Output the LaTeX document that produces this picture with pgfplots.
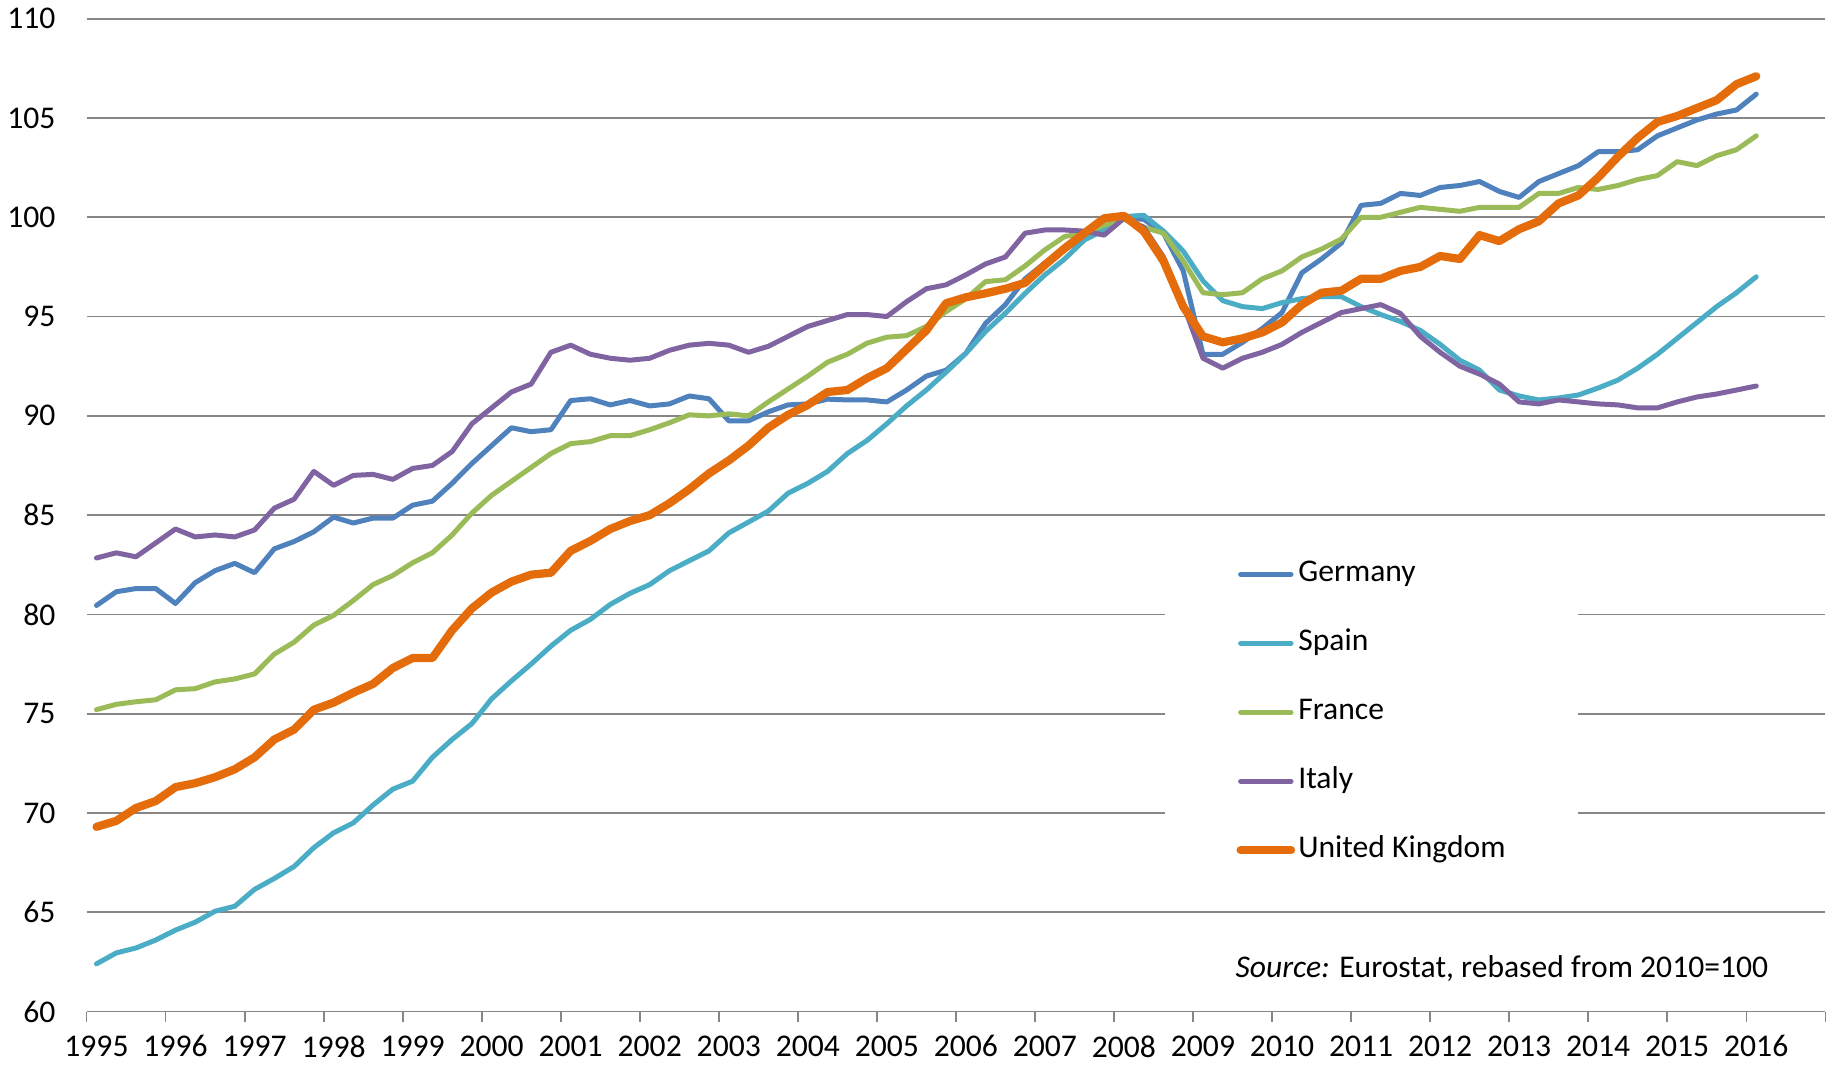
\documentclass[border=0pt]{standalone}
\usepackage{fontspec}
\setmainfont{Carlito}
\usepackage{pgfplots}
\usepackage{pgfplotstable}
\pgfplotsset{compat=1.18}
\definecolor{cde}{HTML}{4F81BD}
\definecolor{ces}{HTML}{4BACC6}
\definecolor{cfr}{HTML}{9BBB59}
\definecolor{cit}{HTML}{8064A2}
\definecolor{cuk}{HTML}{E46C0A}
\definecolor{gridgray}{RGB}{134,134,134}
\pgfplotstableread{
i  de     es     fr     it     uk
0  80.45  62.4   75.2   82.84  69.3
1  81.14  62.95  75.47  83.1   69.6
2  81.3   63.2   75.6   82.9   70.25
3  81.3   63.6   75.7   83.6   70.6
4  80.55  64.1   76.2   84.3   71.3
5  81.6   64.5   76.26  83.9   71.5
6  82.2   65.05  76.6   84.0   71.8
7  82.57  65.3   76.75  83.9   72.2
8  82.1   66.15  77.0   84.25  72.8
9  83.3   66.7   78.0   85.35  73.7
10 83.67  67.3   78.6   85.8   74.2
11 84.16  68.25  79.46  87.2   75.2
12 84.9   69.0   79.95  86.5   75.56
13 84.6   69.5   80.7   87.0   76.06
14 84.85  70.4   81.5   87.05  76.5
15 84.85  71.2   81.96  86.8   77.3
16 85.5   71.6   82.6   87.35  77.8
17 85.7   72.8   83.1   87.5   77.8
18 86.6   73.7   84.0   88.2   79.2
19 87.6   74.5   85.1   89.6   80.3
20 88.5   75.75  86.0   90.4   81.1
21 89.4   76.65  86.7   91.2   81.65
22 89.2   77.5   87.4   91.6   82.0
23 89.3   78.4   88.1   93.2   82.1
24 90.77  79.2   88.6   93.56  83.2
25 90.86  79.75  88.7   93.1   83.7
26 90.55  80.5   89.0   92.9   84.3
27 90.77  81.06  89.0   92.8   84.7
28 90.5   81.5   89.3   92.9   85.0
29 90.6   82.2   89.65  93.3   85.6
30 91.0   82.7   90.05  93.56  86.3
31 90.86  83.2   90.0   93.65  87.1
32 89.75  84.1   90.1   93.56  87.75
33 89.75  84.65  90.0   93.2   88.5
34 90.2   85.2   90.7   93.5   89.4
35 90.55  86.1   91.35  94.0   90.05
36 90.6   86.6   92.0   94.5   90.55
37 90.84  87.2   92.7   94.8   91.2
38 90.8   88.1   93.1   95.1   91.3
39 90.8   88.76  93.66  95.1   91.9
40 90.7   89.6   93.96  95.0   92.4
41 91.3   90.5   94.04  95.75  93.35
42 92.0   91.3   94.5   96.4   94.3
43 92.3   92.2   95.25  96.6   95.67
44 93.15  93.15  95.9   97.1   95.97
45 94.66  94.25  96.76  97.65  96.17
46 95.6   95.17  96.85  98.0   96.4
47 96.9   96.17  97.55  99.2   96.7
48 97.7   97.1   98.36  99.36  97.6
49 98.36  97.9   99.03  99.36  98.44
50 99.03  98.86  99.2   99.3   99.2
51 99.36  99.36  99.6   99.1   99.95
52 99.95  100.03 99.9   99.95  100.07
53 99.9   100.1  99.5   99.5   99.3
54 99.2   99.3   99.2   98.0   97.8
55 97.3   98.3   97.8   95.6   95.5
56 93.1   96.8   96.2   92.9   94.0
57 93.1   95.8   96.1   92.4   93.7
58 93.7   95.5   96.2   92.9   93.9
59 94.4   95.4   96.9   93.2   94.2
60 95.2   95.7   97.3   93.6   94.7
61 97.2   95.9   98.0   94.2   95.6
62 97.9   96.0   98.4   94.7   96.2
63 98.7   96.0   98.9   95.2   96.3
64 100.6  95.5   100.0  95.4   96.9
65 100.7  95.1   100.0  95.6   96.9
66 101.2  94.75  100.25 95.15  97.3
67 101.1  94.3   100.5  94.0   97.5
68 101.5  93.6   100.4  93.2   98.05
69 101.6  92.8   100.3  92.5   97.9
70 101.8  92.3   100.5  92.1   99.1
71 101.3  91.3   100.5  91.6   98.8
72 101.0  91.0   100.5  90.7   99.4
73 101.8  90.8   101.2  90.6   99.8
74 102.2  90.9   101.2  90.8   100.7
75 102.6  91.05  101.5  90.7   101.1
76 103.3  91.4   101.4  90.6   102.0
77 103.3  91.8   101.6  90.55  103.05
78 103.4  92.4   101.9  90.4   104.0
79 104.1  93.1   102.1  90.4   104.8
80 104.5  93.9   102.8  90.7   105.1
81 104.9  94.7   102.6  90.95  105.5
82 105.2  95.5   103.1  91.1   105.9
83 105.4  96.2   103.4  91.3   106.7
84 106.2  97.0   104.1  91.5   107.1
}\datatable
\newcommand{\chartfont}{\fontsize{7.9pt}{9.5pt}\selectfont}
\begin{document}
\begin{tikzpicture}
\useasboundingbox (-21.65pt,-14.35pt) rectangle (439.6pt,252.875pt);
\begin{axis}[
  at={(0,0)}, anchor=south west,
  scale only axis=true,
  width=434.7pt, height=248.2pt,
  xmin=-0.5, xmax=87.5,
  ymin=60, ymax=110,
  axis x line*=bottom, axis y line*=left,
  y axis line style={draw=none},
  x axis line style={draw=gridgray, line width=0.42pt},
  xtick={0,4,...,84},
  xticklabels={1995,1996,1997,1998,1999,2000,2001,2002,2003,2004,2005,2006,2007,2008,2009,2010,2011,2012,2013,2014,2015,2016},
  minor xtick={-0.5,3.5,...,87.5},
  ytick={60,65,...,110},
  yticklabels={60,65,70,75,80,85,90,95,100,105,110},
  major tick length=0pt,
  minor tick length=2.6pt,
  tick align=outside,
  minor tick style={draw=gridgray, line width=0.42pt},
  ymajorgrids=true,
  major grid style={draw=gridgray, line width=0.42pt},
  ticklabel style={font=\chartfont},
  xticklabel style={inner sep=0pt, anchor=north, yshift=-5.8pt},
  yticklabel style={inner sep=0pt, anchor=east, xshift=-7.6pt},
  legend cell align=left,
  legend image code/.code={\draw[#1, line cap=round] (0pt,0pt) -- (12.6pt,0pt);},
  legend style={at={(0.7387,0.3014)}, anchor=center, draw=none, fill=white,
    inner xsep=18pt, inner ysep=6pt, font=\chartfont, row sep=10.45pt,
    nodes={inner sep=0pt, text height=5.2pt, text depth=1.6pt},
    /tikz/every odd column/.append style={column sep=0.8pt}},
  every axis plot/.append style={line join=round, line cap=round},
]
\addplot[cde, line width=1.25pt] table[x=i, y=de] {\datatable};
\addlegendentry{Germany}
\addplot[ces, line width=1.25pt] table[x=i, y=es] {\datatable};
\addlegendentry{Spain}
\addplot[cfr, line width=1.25pt] table[x=i, y=fr] {\datatable};
\addlegendentry{France}
\addplot[cit, line width=1.25pt] table[x=i, y=it] {\datatable};
\addlegendentry{Italy}
\addplot[cuk, line width=2.05pt] table[x=i, y=uk] {\datatable};
\addlegendentry{United Kingdom}
\node[anchor=east, inner sep=0pt, font=\chartfont] at (rel axis cs:0.9675,0.0435) {\textit{Source:} Eurostat, rebased from 2010=100};
\end{axis}
\end{tikzpicture}
\end{document}
